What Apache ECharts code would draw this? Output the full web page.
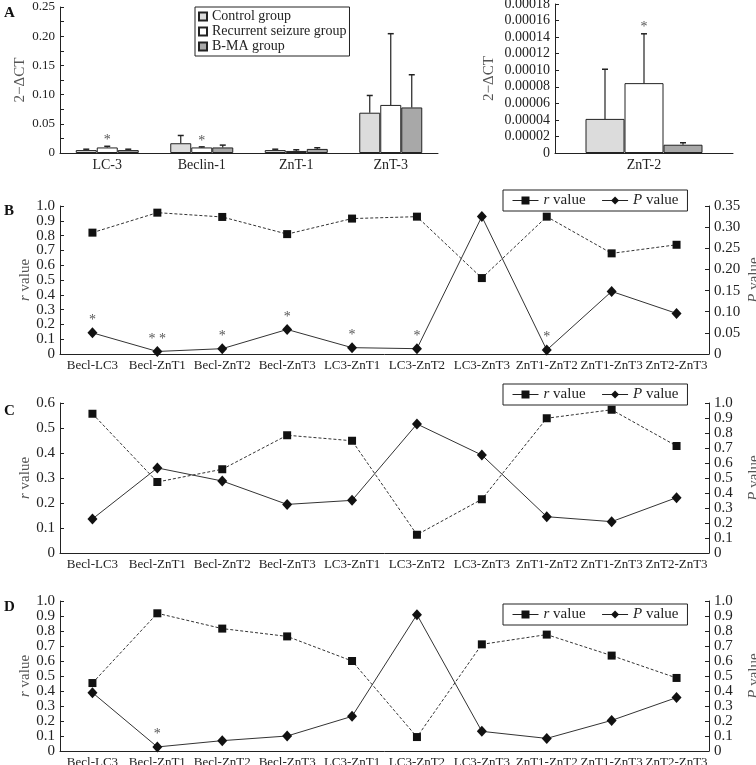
<!DOCTYPE html>
<html><head><meta charset="utf-8">
<script src="https://cdn.jsdelivr.net/npm/echarts@6/dist/echarts.min.js"></script>
<style>html,body{margin:0;padding:0;background:#fff}#c{width:756px;height:765px}</style>
</head><body><div id="c"></div>
<script>
// ---- Panel A data ----
const catsA = ['LC-3', 'Beclin-1', 'ZnT-1', 'ZnT-3'];
const controlA = [0.005, 0.0167, 0.005, 0.069];
const controlSD = [0.0015, 0.0133, 0.0015, 0.0295];
const recurrentA = [0.0095, 0.0095, 0.0035, 0.0823];
const recurrentSD = [0.002, 0.001, 0.002, 0.122];
const bmaA = [0.005, 0.0095, 0.007, 0.078];
const bmaSD = [0.0015, 0.004, 0.002, 0.056];
const starsRecA = ['*', '*', '', ''];

const catsA2 = ['ZnT-2'];
const controlA2 = [0.0000412];
const controlSD2 = [0.00006];
const recurrentA2 = [0.0000844];
const recurrentSD2 = [0.0000596];
const bmaA2 = [0.00001];
const bmaSD2 = [0.0000024];
const starsRecA2 = ['*'];

const groupNames = ['Control group', 'Recurrent seizure group', 'B-MA group'];

// ---- Panels B, C, D data ----
const pairs = ['Becl-LC3','Becl-ZnT1','Becl-ZnT2','Becl-ZnT3','LC3-ZnT1','LC3-ZnT2','LC3-ZnT3','ZnT1-ZnT2','ZnT1-ZnT3','ZnT2-ZnT3'];
const rB = [0.82, 0.955, 0.926, 0.81, 0.915, 0.928, 0.513, 0.928, 0.68, 0.738];
const pB = [0.05, 0.006, 0.0126, 0.058, 0.015, 0.0126, 0.325, 0.0094, 0.148, 0.096];
const starsB = ['*', '* *', '*', '*', '*', '*', '', '*', '', ''];
const rC = [0.557, 0.284, 0.335, 0.471, 0.449, 0.073, 0.215, 0.539, 0.573, 0.428];
const pC = [0.227, 0.567, 0.48, 0.324, 0.351, 0.86, 0.653, 0.242, 0.209, 0.369];
const starsC = ['', '', '', '', '', '', '', '', '', ''];
const rD = [0.453, 0.918, 0.816, 0.764, 0.6, 0.093, 0.711, 0.776, 0.636, 0.487];
const pD = [0.389, 0.027, 0.069, 0.1, 0.231, 0.909, 0.131, 0.084, 0.204, 0.356];
const starsD = ['', '*', '', '', '', '', '', '', '', ''];

const FONT = "'Liberation Serif','Times New Roman',serif";
const TXT = '#222';
const AX = '#222';
const fills = ['#dcdcdc', '#ffffff', '#a8a8a8'];

const chart = echarts.init(document.getElementById('c'));

function xCat(grid, data, fs) {
  return {
    type: 'category', gridIndex: grid, data: data,
    axisLine: { lineStyle: { color: AX, width: 1 } },
    axisTick: { inside: true, length: 5, lineStyle: { color: AX } },
    axisLabel: { color: TXT, fontFamily: FONT, fontSize: fs, margin: 5, interval: 0 },
    splitLine: { show: false }
  };
}
// parity: null = all labels, 0 = even steps only, 1 = odd steps only
function fmt(dec, interval, parity) {
  return function (v) {
    const k = Math.round(v / interval);
    if (parity !== null && (k % 2) !== parity) return '';
    return v === 0 ? '0' : v.toFixed(dec);
  };
}
const richI = { i: { fontStyle: 'italic', fontFamily: FONT, fontSize: 15, color: '#555' } };

const yAxes = [];
function addY(grid, max, interval, dec, fs, name, gap, pos, rich, parity, bare) {
  const ax = {
    type: 'value', gridIndex: grid, min: 0, max: max, interval: interval, position: pos || 'left',
    name: bare ? '' : name, nameLocation: 'middle', nameGap: gap, nameRotate: 90, nameMoveOverlap: false,
    nameTextStyle: { color: '#555', fontFamily: FONT, fontSize: 15, rich: rich },
    axisLine: { show: !bare, lineStyle: { color: AX, width: 1 } },
    axisTick: { show: !bare, inside: true, length: 4, lineStyle: { color: AX } },
    axisLabel: { color: TXT, fontFamily: FONT, fontSize: fs, margin: 5, formatter: fmt(dec, interval, parity), showMinLabel: true, showMaxLabel: true },
    splitLine: { show: false }
  };
  yAxes.push(ax);
  return yAxes.length - 1;
}
// A panels
const yA1 = addY(0, 0.25, 0.05, 2, 13, '2\u2212\u0394CT', 32, 'left', null, null, false);
yAxes[yA1].minorTick = { show: true, splitNumber: 2, length: 4, lineStyle: { color: AX } };
const yA2 = addY(1, 0.00018, 0.00002, 5, 14, '2\u2212\u0394CT', 58, 'left', null, null, false);
// dual axes (label split into two layers so that none are dropped)
function addDual(grid, max, interval, dec, name, gap, pos) {
  const main = addY(grid, max, interval, dec, 15, name, gap, pos, richI, 0, false);
  addY(grid, max, interval, dec, 15, name, gap, pos, richI, 1, true);
  return main;
}
const yBr = addDual(2, 1.0, 0.1, 1, '{i|r} value', 27, 'left');
const yBp = addDual(2, 0.35, 0.05, 2, '{i|P} value', 38, 'right');
const yCr = addDual(3, 0.6, 0.1, 1, '{i|r} value', 27, 'left');
const yCp = addDual(3, 1.0, 0.1, 1, '{i|P} value', 38, 'right');
const yDr = addDual(4, 1.0, 0.1, 1, '{i|r} value', 27, 'left');
const yDp = addDual(4, 1.0, 0.1, 1, '{i|P} value', 38, 'right');

function barSeries(xi, yi, vals, k, bw) {
  return {
    type: 'bar', name: groupNames[k], xAxisIndex: xi, yAxisIndex: yi, data: vals,
    barWidth: bw, barGap: '0%',
    itemStyle: { color: fills[k], borderColor: '#222', borderWidth: 1 }
  };
}
function errSeries(xi, yi, means, sds, k, bw, stars) {
  return {
    type: 'custom', xAxisIndex: xi, yAxisIndex: yi, z: 5,
    data: means.map((m, i) => [i, m, sds[i]]),
    encode: { x: 0, y: 1 },
    renderItem: function (params, api) {
      const c = api.value(0), m = api.value(1), s = api.value(2);
      const base = api.coord([c, m]);
      const top = api.coord([c, m + s]);
      const x = base[0] + (k - 1) * bw;
      const children = [
        { type: 'line', shape: { x1: x, y1: base[1], x2: x, y2: top[1] }, style: { stroke: '#222', lineWidth: 1.2 } },
        { type: 'line', shape: { x1: x - 3, y1: top[1], x2: x + 3, y2: top[1] }, style: { stroke: '#222', lineWidth: 1.5 } }
      ];
      const st = stars ? stars[params.dataIndex] : '';
      if (st) {
        children.push({ type: 'text', style: { text: st, x: x, y: top[1] + 1, align: 'center', verticalAlign: 'bottom', fill: '#555', font: '14px ' + FONT } });
      }
      return { type: 'group', children: children };
    }
  };
}
function lineSeries(xi, yi, vals, isR, stars) {
  return {
    type: 'line', name: isR ? 'r value' : 'P value', xAxisIndex: xi, yAxisIndex: yi,
    data: vals.map((v, i) => {
      const st = stars ? stars[i] : '';
      return st ? { value: v, label: { show: true, formatter: st, position: 'top', distance: 0, color: '#555', fontFamily: FONT, fontSize: 14 } } : v;
    }),
    symbol: isR ? 'rect' : 'diamond', symbolSize: isR ? 8 : [10, 11],
    itemStyle: { color: '#111' },
    lineStyle: { color: '#333', width: 1, type: isR ? [3, 2] : 'solid' },
    z: isR ? 3 : 4
  };
}
function lineLegend(top) {
  return {
    left: 503, top: top, orient: 'horizontal', data: ['r value', 'P value'],
    borderColor: '#222', borderWidth: 1, padding: [3, 9], itemGap: 16,
    itemWidth: 26, itemHeight: 10,
    lineStyle: { type: 'solid', color: '#222', width: 1 },
    formatter: function (n) { return n === 'r value' ? '{i|r} value' : '{i|P} value'; },
    textStyle: { color: TXT, fontFamily: FONT, fontSize: 15, rich: { i: { fontStyle: 'italic', fontFamily: FONT, fontSize: 15, color: TXT } } }
  };
}

const G = { outerBoundsMode: 'none', containLabel: false };
const option = {
  animation: false,
  backgroundColor: '#fff',
  textStyle: { fontFamily: FONT },
  grid: [
    Object.assign({ left: 60, top: 7, width: 378, height: 146 }, G),
    Object.assign({ left: 555, top: 4, width: 178, height: 149 }, G),
    Object.assign({ left: 60, top: 206, width: 649, height: 148 }, G),
    Object.assign({ left: 60, top: 403, width: 649, height: 150 }, G),
    Object.assign({ left: 60, top: 601, width: 649, height: 150 }, G)
  ],
  legend: [
    {
      left: 195, top: 7, orient: 'vertical', data: groupNames,
      borderColor: '#222', borderWidth: 1, padding: [2, 3], itemGap: 0,
      itemWidth: 8, itemHeight: 8, icon: 'rect',
      textStyle: { color: TXT, fontFamily: FONT, fontSize: 14, lineHeight: 15 }
    },
    lineLegend(190),
    lineLegend(384),
    lineLegend(604)
  ],
  xAxis: [
    xCat(0, catsA, 14),
    xCat(1, catsA2, 14),
    xCat(2, pairs, 13),
    xCat(3, pairs, 13),
    xCat(4, pairs, 13)
  ],
  yAxis: yAxes,
  series: [
    barSeries(0, yA1, controlA, 0, 21),
    barSeries(0, yA1, recurrentA, 1, 21),
    barSeries(0, yA1, bmaA, 2, 21),
    errSeries(0, yA1, controlA, controlSD, 0, 21, null),
    errSeries(0, yA1, recurrentA, recurrentSD, 1, 21, starsRecA),
    errSeries(0, yA1, bmaA, bmaSD, 2, 21, null),
    barSeries(1, yA2, controlA2, 0, 39),
    barSeries(1, yA2, recurrentA2, 1, 39),
    barSeries(1, yA2, bmaA2, 2, 39),
    errSeries(1, yA2, controlA2, controlSD2, 0, 39, null),
    errSeries(1, yA2, recurrentA2, recurrentSD2, 1, 39, starsRecA2),
    errSeries(1, yA2, bmaA2, bmaSD2, 2, 39, null),
    lineSeries(2, yBr, rB, true, null),
    lineSeries(2, yBp, pB, false, starsB),
    lineSeries(3, yCr, rC, true, null),
    lineSeries(3, yCp, pC, false, starsC),
    lineSeries(4, yDr, rD, true, null),
    lineSeries(4, yDp, pD, false, starsD)
  ],
  graphic: [
    { type: 'text', left: 4, top: 6, style: { text: 'A', font: 'bold 15px ' + FONT, fill: '#111' } },
    { type: 'text', left: 4, top: 204, style: { text: 'B', font: 'bold 15px ' + FONT, fill: '#111' } },
    { type: 'text', left: 4, top: 404, style: { text: 'C', font: 'bold 15px ' + FONT, fill: '#111' } },
    { type: 'text', left: 4, top: 600, style: { text: 'D', font: 'bold 15px ' + FONT, fill: '#111' } }
  ]
};
chart.setOption(option);
</script></body></html>
